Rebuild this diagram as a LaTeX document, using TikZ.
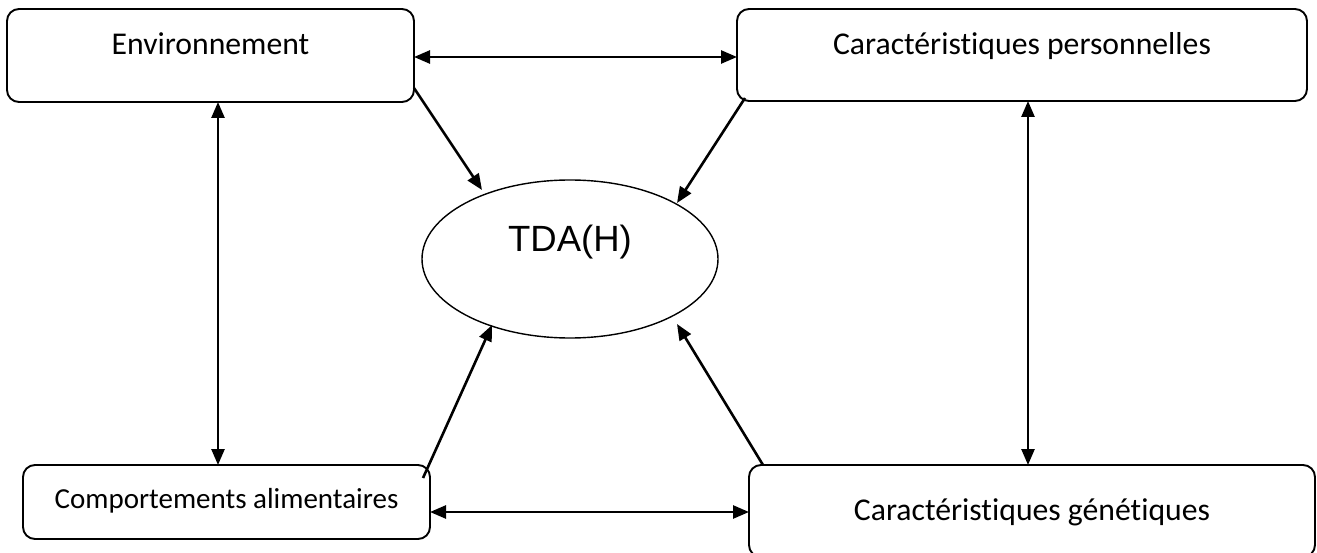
\documentclass[tikz,border=0pt]{standalone}
\usepackage{fontspec}
\setmainfont{Carlito}[RawFeature={-liga;-dlig;-clig}]
\newfontfamily\arialf{Liberation Sans}
\usetikzlibrary{shapes.geometric,arrows.meta,calc}
\begin{document}
\begin{tikzpicture}[x=1pt,y=-1pt,
  box/.style={draw, line width=1.9pt, rounded corners=12pt, inner sep=0pt, outer sep=0pt, anchor=north west, font=\fontsize{31.7pt}{38pt}\selectfont},
  arr/.style={line width=2.6pt, -{Triangle[length=16pt,width=13pt]}},
  dbl/.style={line width=2.6pt, {Triangle[length=16pt,width=13pt]}-{Triangle[length=16pt,width=13pt]}}]
\useasboundingbox (0,0) rectangle (1317,553);
% boxes
\node[box, minimum width=407pt, text height=46pt, text depth=47pt] (env) at (7,9) {Environnement};
\node[box, minimum width=570pt, text height=46pt, text depth=46pt] (cp) at (737,9) {Caractéristiques personnelles};
\node[box, minimum width=407pt, text height=43pt, text depth=31pt, font=\fontsize{29pt}{35pt}\selectfont] (comp) at (23,465) {Comportements alimentaires};
\node[box, minimum width=566pt, text height=55pt, text depth=37pt] (gen) at (749,465) {Caractéristiques génétiques};
% ellipse
\node[draw, ellipse, line width=1.4pt, minimum width=296pt, minimum height=158pt, inner sep=0pt, outer sep=0pt,
  font=\arialf\fontsize{36.5pt}{44pt}\selectfont, text height=27pt, text depth=41pt] (tda) at (570,259) {TDA(H)};
% double arrows
\draw[dbl] (env.east |- 0,57) -- (cp.west |- 0,57);
\draw[dbl] (env.south -| 218,0) -- (comp.north -| 218,0);
\draw[dbl] (cp.south -| 1028,0) -- (gen.north -| 1028,0);
\draw[dbl] (comp.east |- 0,512) -- (gen.west |- 0,512);
% arrows into TDA(H)
\draw[arr] (env.east |- 0,88) -- ($(tda.center)+(-88,-69)$);
\draw[arr] ($(cp.south west)+(8,-3)$) -- ($(tda.center)+(107,-56)$);
\draw[arr] ($(comp.north east)+(-7,13)$) -- ($(tda.center)+(-78,66)$);
\draw[arr] ($(gen.north west)+(14,0)$) -- ($(tda.center)+(107,65)$);
\end{tikzpicture}
\end{document}
